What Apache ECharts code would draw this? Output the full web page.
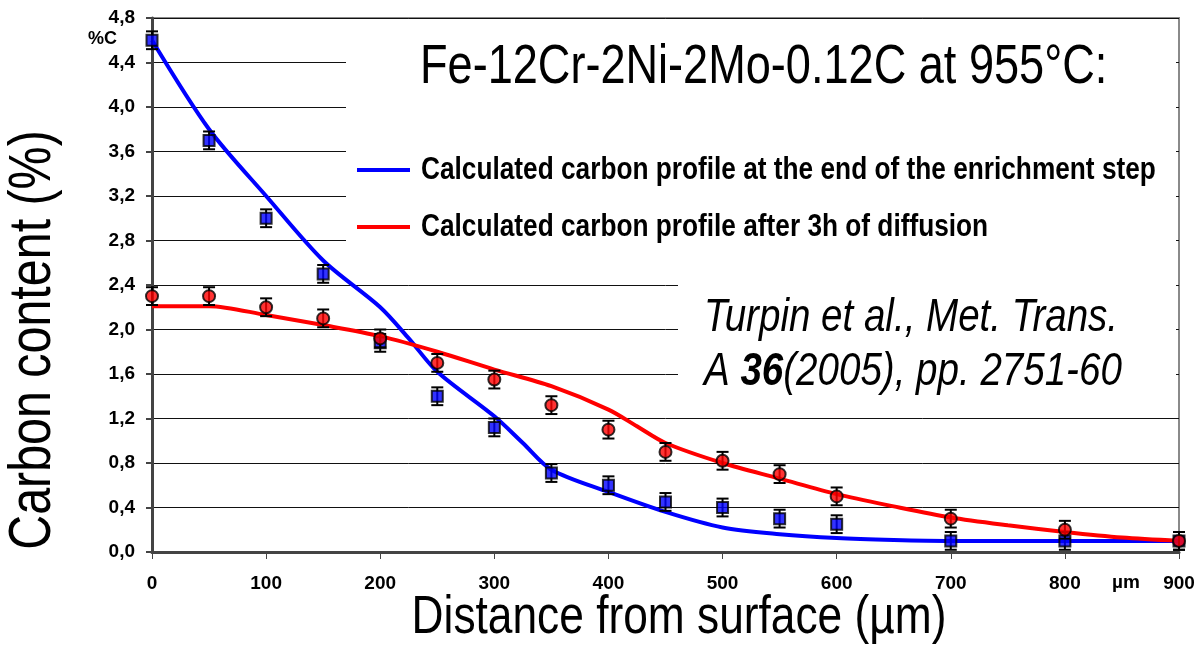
<!DOCTYPE html>
<html>
<head>
<meta charset="utf-8">
<script src="https://cdn.jsdelivr.net/npm/echarts@6/dist/echarts.min.js"></script>
<style>
  html, body { margin: 0; padding: 0; background: #fff; }
  #chart { width: 1198px; height: 650px; }
</style>
</head>
<body>
<div id="chart"></div>
<script>
// Measured carbon content (%) vs. depth (µm), with error bars
const measuredDepth    = [0, 50, 100, 150, 200, 250, 300, 350, 400, 450, 500, 550, 600, 700, 800, 900];
const measuredEnriched = [4.6, 3.7, 3.0, 2.5, 1.88, 1.4, 1.12, 0.71, 0.6, 0.45, 0.4, 0.3, 0.25, 0.1, 0.1, 0.1];
const errEnriched      = [0.08, 0.08, 0.08, 0.08, 0.08, 0.08, 0.08, 0.08, 0.08, 0.08, 0.08, 0.08, 0.08, 0.08, 0.08, 0.08];
const measuredDiffused = [2.3, 2.3, 2.2, 2.1, 1.92, 1.7, 1.55, 1.32, 1.1, 0.9, 0.82, 0.7, 0.5, 0.3, 0.2, 0.1];
const errDiffused      = [0.08, 0.08, 0.08, 0.08, 0.08, 0.08, 0.08, 0.08, 0.08, 0.08, 0.08, 0.08, 0.08, 0.08, 0.08, 0.08];

// Calculated profiles
const calcEnrichedDepth = [0, 50, 100, 150, 200, 225, 250, 300, 325, 350, 400, 450, 500, 550, 600, 650, 700, 800, 900];
const calcEnriched      = [4.6, 3.8, 3.2, 2.62, 2.2, 1.92, 1.62, 1.22, 0.98, 0.74, 0.54, 0.36, 0.22, 0.16, 0.125, 0.108, 0.1, 0.1, 0.1];
const calcDiffusedDepth = [0, 50, 100, 150, 200, 250, 300, 350, 400, 425, 450, 500, 550, 600, 650, 700, 750, 800, 850, 900];
const calcDiffused      = [2.21, 2.21, 2.13, 2.04, 1.94, 1.8, 1.64, 1.49, 1.28, 1.13, 0.98, 0.8, 0.66, 0.52, 0.41, 0.31, 0.24, 0.18, 0.13, 0.1];

const xTicks = [0, 100, 200, 300, 400, 500, 600, 700, 800, 900];

const seriesNames = [
  'Calculated carbon profile at the end of the enrichment step',
  'Calculated carbon profile after 3h of diffusion'
];
const seriesColors = ['#0000ff', '#ff0000'];
const titleText = 'Fe-12Cr-2Ni-2Mo-0.12C at 955°C:';
const xTitle = 'Distance from surface (µm)';
const yTitle = 'Carbon content (%)';

const SANS = '"Liberation Sans", Arial, sans-serif';
const NARROW_SCALE = 0.82;   // horizontal squeeze giving a narrow face

const pairs = (xs, ys) => xs.map((x, i) => [x, ys[i]]);
const errPairs = (xs, ys, es) => xs.map((x, i) => [x, ys[i] - es[i], ys[i] + es[i]]);

function errorBar(params, api) {
  const x = api.value(0);
  const lo = api.coord([x, api.value(1)]);
  const hi = api.coord([x, api.value(2)]);
  const cap = 6;
  const style = { stroke: '#000', lineWidth: 2 };
  return {
    type: 'group',
    children: [
      { type: 'line', shape: { x1: lo[0], y1: lo[1], x2: hi[0], y2: hi[1] }, style },
      { type: 'line', shape: { x1: lo[0] - cap, y1: lo[1], x2: lo[0] + cap, y2: lo[1] }, style },
      { type: 'line', shape: { x1: hi[0] - cap, y1: hi[1], x2: hi[0] + cap, y2: hi[1] }, style }
    ]
  };
}

function narrowText(x, y, text, size, extra) {
  return Object.assign({
    type: 'text', z: 100, x, y, scaleX: NARROW_SCALE,
    style: Object.assign({ text, fontFamily: SANS, fontSize: size, fill: '#000',
      align: 'left', verticalAlign: 'middle' }, (extra && extra.style) || {})
  }, (extra && extra.el) || {});
}

// hand-placed legend rows
const legendRows = seriesNames.map((name, i) => {
  const y = 170 + i * 57;
  return [
    { type: 'line', z: 100, shape: { x1: 357, y1: y, x2: 410, y2: y },
      style: { stroke: seriesColors[i], lineWidth: 4 } },
    narrowText(421, y, name, 32, { style: { fontWeight: 'bold' } })
  ];
}).flat();

const chart = echarts.init(document.getElementById('chart'), null, { renderer: 'canvas' });

chart.setOption({
  animation: false,
  backgroundColor: '#fff',
  grid: {
    left: 152, right: 19, top: 18, bottom: 98,
    show: true, borderColor: '#8a8a8a', borderWidth: 2, backgroundColor: 'transparent'
  },
  xAxis: {
    type: 'value', min: 0, max: 900, interval: 100,
    axisLine: { show: true, lineStyle: { color: '#444', width: 3 } },
    axisTick: { show: true, length: 7, lineStyle: { color: '#444', width: 1 } },
    axisLabel: { margin: 22, fontFamily: SANS, fontWeight: 'bold', fontSize: 19, color: '#000',
      customValues: xTicks, formatter: v => String(v) },
    splitLine: { show: false }
  },
  yAxis: {
    type: 'value', min: 0, max: 4.8, interval: 0.4,
    axisLine: { show: true, lineStyle: { color: '#444', width: 3 } },
    axisTick: { show: true, length: 6, lineStyle: { color: '#444', width: 2 } },
    axisLabel: { margin: 17, fontFamily: SANS, fontWeight: 'bold', fontSize: 19, color: '#000',
      formatter: v => v.toFixed(1).replace('.', ',') },
    splitLine: { show: true, lineStyle: { color: '#111', width: 1 } }
  },
  graphic: [
    // white panels behind the title, legend and citation
    { type: 'rect', z: 1, shape: { x: 346, y: 21, width: 830, height: 241 }, style: { fill: '#fff' } },
    { type: 'rect', z: 1, shape: { x: 678, y: 262, width: 498, height: 148 }, style: { fill: '#fff' } },
    narrowText(420, 68, titleText, 55),
    narrowText(704, 318,
      '{i|Turpin et al., Met. Trans.}\n{i|A }{b|36}{i|(2005), pp. 2751-60}', 47, {
        style: {
          text: '{i|Turpin et al., Met. Trans.}\n{i|A }{b|36}{i|(2005), pp. 2751-60}',
          verticalAlign: 'top',
          rich: {
            i: { fontFamily: SANS, fontStyle: 'italic', fontSize: 47, lineHeight: 54, fill: '#000' },
            b: { fontFamily: SANS, fontStyle: 'italic', fontWeight: 'bold', fontSize: 47, lineHeight: 54, fill: '#000' }
          }
        },
        el: { y: 291 }
      }),
    ...legendRows,
    { type: 'text', z: 100, x: 88, y: 39,
      style: { text: '%C', fontFamily: SANS, fontWeight: 'bold', fontSize: 18, fill: '#000', verticalAlign: 'middle' } },
    { type: 'text', z: 100, x: 1112, y: 583,
      style: { text: 'µm', fontFamily: SANS, fontWeight: 'bold', fontSize: 19, fill: '#000', verticalAlign: 'middle' } },
    narrowText(679, 618, xTitle, 54, { style: { align: 'center' } }),
    narrowText(34, 340, yTitle, 59, { style: { align: 'center' }, el: { rotation: Math.PI / 2 } })
  ],
  series: [
    {
      name: seriesNames[0], type: 'line', z: 3,
      data: pairs(calcEnrichedDepth, calcEnriched),
      smooth: 0.3, showSymbol: false, symbol: 'none',
      lineStyle: { color: seriesColors[0], width: 4 }, itemStyle: { color: seriesColors[0] }
    },
    {
      name: seriesNames[1], type: 'line', z: 3,
      data: pairs(calcDiffusedDepth, calcDiffused),
      smooth: 0.3, showSymbol: false, symbol: 'none',
      lineStyle: { color: seriesColors[1], width: 4 }, itemStyle: { color: seriesColors[1] }
    },
    {
      type: 'custom', z: 4, renderItem: errorBar,
      data: errPairs(measuredDepth, measuredEnriched, errEnriched)
    },
    {
      type: 'scatter', z: 5, symbol: 'rect', symbolSize: 11,
      data: pairs(measuredDepth, measuredEnriched),
      itemStyle: { color: '#0000ff', borderColor: '#000', borderWidth: 2 }
    },
    {
      type: 'custom', z: 6, renderItem: errorBar,
      data: errPairs(measuredDepth, measuredDiffused, errDiffused)
    },
    {
      type: 'scatter', z: 7, symbol: 'circle', symbolSize: 12,
      data: pairs(measuredDepth, measuredDiffused),
      itemStyle: { color: '#ff0000', borderColor: '#000', borderWidth: 2 }
    }
  ]
});
</script>
</body>
</html>
